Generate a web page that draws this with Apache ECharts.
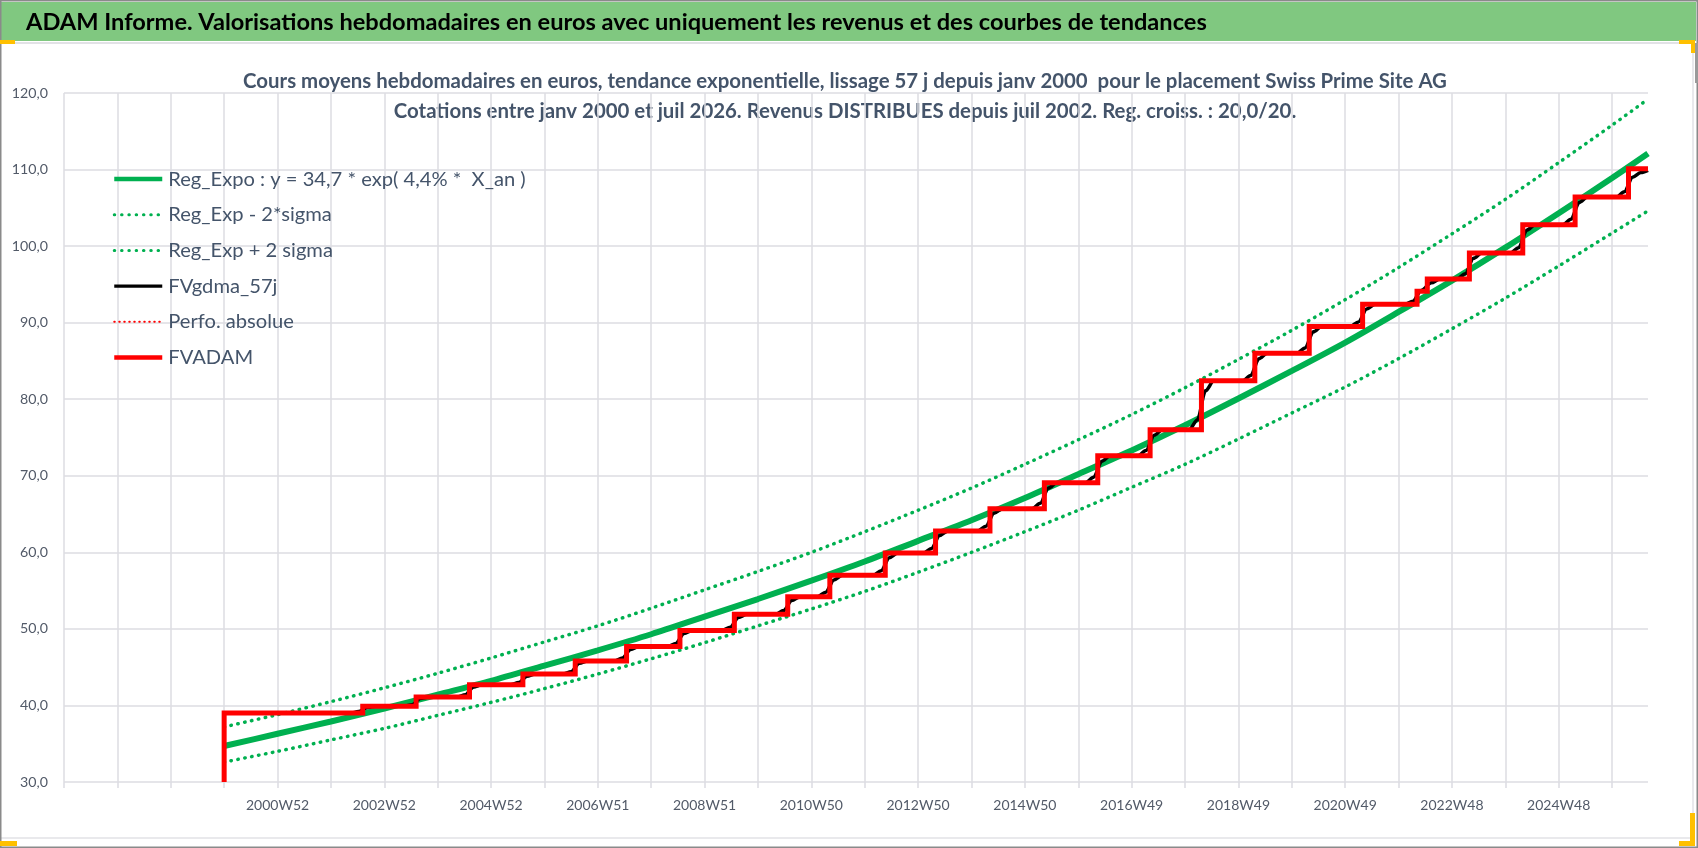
<!DOCTYPE html>
<html>
<head>
<meta charset="utf-8">
<title>ADAM Informe - Swiss Prime Site AG</title>
<script src="https://cdn.jsdelivr.net/npm/echarts@6.0.0/dist/echarts.min.js"></script>
<style>
  html, body { margin: 0; padding: 0; background: #fff; }
  #chart { width: 1698px; height: 848px; }
</style>
</head>
<body>
<div id="chart"></div>
<script>
"use strict";
// axe des semaines : index 0..1543, grille toutes les 52 semaines
var N_WEEKS = 1544;
var GRID_STEP = 52;
var FIRST_LABEL = 208;
var LABEL_STEP = 104;
var tickLabels = ['2000W52', '2002W52', '2004W52', '2006W51', '2008W51', '2010W50', '2012W50',
                  '2014W50', '2016W49', '2018W49', '2020W49', '2022W48', '2024W48'];

// courbes de tendance (une valeur par an)
var trendWeeks = [156, 208, 260, 312, 364, 416, 468, 520, 572, 624, 676, 728, 780, 832, 884, 936,
                  988, 1040, 1092, 1144, 1196, 1248, 1300, 1352, 1404, 1456, 1508, 1543];
var regExpo = [34.7, 36.3, 37.9, 39.6, 41.4, 43.2, 45.2, 47.2, 49.3, 51.6, 53.9, 56.3, 58.8, 61.5, 64.2, 67.1,
               70.2, 73.3, 76.6, 80.1, 83.7, 87.4, 91.4, 95.5, 99.8, 104.3, 108.9, 112.1];
var regMinus = [32.6, 34.0, 35.5, 37.0, 38.7, 40.4, 42.2, 44.1, 46.1, 48.2, 50.4, 52.6, 54.9, 57.4, 60.0, 62.7,
                65.5, 68.5, 71.5, 74.8, 78.2, 81.6, 85.3, 89.2, 93.2, 97.4, 101.7, 104.6];
var regPlus = [37.2, 38.8, 40.5, 42.3, 44.2, 46.2, 48.3, 50.4, 52.7, 55.1, 57.5, 60.0, 62.7, 65.5, 68.4, 71.5,
               74.7, 78.0, 81.5, 85.2, 89.0, 93.0, 97.2, 101.6, 106.1, 110.9, 115.8, 119.2];

// FVADAM : paliers (semaine du saut -> nouveau niveau)
var adamWeeks = [156, 156, 291, 343, 395, 447, 498, 548, 600, 653, 705, 746, 800, 849, 902, 955, 1007,
                 1058, 1108, 1160, 1213, 1265, 1318, 1328, 1369, 1421, 1472, 1524, 1543];
var adamVals = [30.0, 39.0, 39.9, 41.1, 42.7, 44.1, 45.8, 47.7, 49.8, 51.9, 54.2, 57.0, 59.9, 62.8, 65.7, 69.1, 72.6,
                76.0, 82.4, 86.0, 89.5, 92.4, 94.1, 95.7, 99.1, 102.8, 106.4, 110.1, 110.1];

// FVgdma_57j : moyenne lissée autour des sauts
var gdmaWeeks = [156,
  279, 287, 295, 303,  331, 339, 347, 355,  383, 391, 399, 407,  435, 443, 451, 459,
  486, 494, 502, 510,  536, 544, 552, 560,  588, 596, 604, 612,  641, 649, 657, 665,
  693, 701, 709, 717,  734, 742, 750, 758,  788, 796, 804, 812,  837, 845, 853, 861,
  890, 898, 906, 914,  943, 951, 959, 967,  995, 1003, 1011, 1019,  1046, 1054, 1062, 1070,
  1096, 1104, 1112, 1120,  1148, 1156, 1164, 1172,  1201, 1209, 1217, 1225,  1253, 1261, 1269, 1277,
  1306, 1314, 1322, 1332, 1340,  1357, 1365, 1373, 1381,  1409, 1417, 1425, 1433,
  1460, 1468, 1476, 1484,  1512, 1520, 1528, 1536, 1543];
var gdmaVals = [39.0,
  39.0, 39.2, 39.7, 39.9,  39.9, 40.1, 40.9, 41.1,  41.1, 41.4, 42.4, 42.7,  42.7, 43.0, 43.8, 44.1,
  44.1, 44.4, 45.5, 45.8,  45.8, 46.2, 47.3, 47.7,  47.7, 48.1, 49.4, 49.8,  49.8, 50.2, 51.5, 51.9,
  51.9, 52.4, 53.7, 54.2,  54.2, 54.8, 56.4, 57.0,  57.0, 57.6, 59.3, 59.9,  59.9, 60.5, 62.2, 62.8,
  62.8, 63.4, 65.1, 65.7,  65.7, 66.4, 68.4, 69.1,  69.1, 69.8, 71.9, 72.6,  72.6, 73.3, 75.3, 76.0,
  76.0, 77.3, 81.1, 82.4,  82.4, 83.1, 85.3, 86.0,  86.0, 86.7, 88.8, 89.5,  89.5, 90.1, 91.8, 92.4,
  92.4, 92.8, 94.2, 95.2, 95.7,  95.7, 96.4, 98.4, 99.1,  99.1, 99.8, 102.1, 102.8,
  102.8, 103.5, 105.7, 106.4,  106.4, 107.1, 109.0, 109.6, 109.9];

var TITLE = 'ADAM Informe. Valorisations hebdomadaires en euros avec uniquement les revenus et des courbes de tendances';
var SUB1 = 'Cours moyens hebdomadaires en euros, tendance exponentielle, lissage 57 j depuis janv 2000  pour le placement Swiss Prime Site AG';
var SUB2 = 'Cotations entre janv 2000 et juil 2026. Revenus DISTRIBUES depuis juil 2002. Reg. croiss. : 20,0/20.';
var names = ['Reg_Expo : y = 34,7 * exp( 4,4% *  X_an )', 'Reg_Exp - 2*sigma', 'Reg_Exp + 2 sigma',
             'FVgdma_57j', 'Perfo. absolue', 'FVADAM'];

var FONT = 'Lato, "Noto Sans", sans-serif';
var GREEN = '#00B050', RED = '#FF0000', GRIDC = '#DCDCE2', TXT = '#525A68', SLATE = '#44546A';

// taille de police ajustée pour retrouver la largeur des textes d'origine
var measureCtx = document.createElement('canvas').getContext('2d');
function fitSize(text, weight, width) {
  measureCtx.font = weight + ' 100px ' + FONT;
  return Math.round(1000 * width / measureCtx.measureText(text).width) / 10;
}
var titleSize = fitSize(TITLE, 'bold', 1183);
var subSize = fitSize(SUB1, 'bold', 1202);
var legendSize = (fitSize(names[1], 'normal', 163) + fitSize(names[0], 'normal', 359)) / 2;
var yLabSize = fitSize('30,0', 'normal', 28);
var xLabSize = fitSize('2000W52', 'normal', 63);

function zip(xs, ys) {
  return xs.map(function (x, i) { return [x, ys[i]]; });
}

var categories = [];
for (var i = 0; i < N_WEEKS; i++) categories.push(String(i));

var dotted = [0.5, 6.5];

var myChart = echarts.init(document.getElementById('chart'), null, { renderer: 'canvas' });
myChart.setOption({
  animation: false,
  backgroundColor: '#ffffff',
  grid: { left: 64, right: 50, top: 93, bottom: 66, containLabel: false, outerBoundsMode: 'none' },
  legend: {
    orient: 'vertical', left: 112, top: 167, padding: 0,
    itemWidth: 48, itemHeight: 14, itemGap: 11.7,
    selectedMode: false,
    itemStyle: { opacity: 0 },
    textStyle: { fontFamily: FONT, fontSize: legendSize, color: SLATE, lineHeight: 24, padding: [0, 0, 0, 1] },
    data: [
      { name: names[0], lineStyle: { width: 4.5, color: GREEN, type: 'solid' } },
      { name: names[1], lineStyle: { width: 3, color: GREEN, type: [0.5, 6.8], cap: 'round' } },
      { name: names[2], lineStyle: { width: 3, color: GREEN, type: [0.5, 6.8], cap: 'round' } },
      { name: names[3], lineStyle: { width: 3.2, color: '#000', type: 'solid' } },
      { name: names[4], lineStyle: { width: 2, color: RED, type: [0.5, 4.5], cap: 'round' } },
      { name: names[5], lineStyle: { width: 4.5, color: RED, type: 'solid' } }
    ]
  },
  xAxis: {
    type: 'category',
    data: categories,
    boundaryGap: false,
    axisLine: { show: false },
    axisTick: {
      show: true, length: 6,
      interval: function (idx) { return idx % GRID_STEP === 0; },
      lineStyle: { color: GRIDC, width: 1.5 }
    },
    splitLine: {
      show: true,
      interval: function (idx) { return idx % GRID_STEP === 0; },
      lineStyle: { color: GRIDC, width: 1.5 }
    },
    axisLabel: {
      margin: 16,
      interval: function (idx) { return idx >= FIRST_LABEL && (idx - FIRST_LABEL) % LABEL_STEP === 0; },
      formatter: function (val, idx) { return tickLabels[(idx - FIRST_LABEL) / LABEL_STEP] || ''; },
      fontFamily: FONT, fontSize: xLabSize, color: TXT
    }
  },
  yAxis: {
    type: 'value', min: 30, max: 120, interval: 10,
    axisLine: { show: false },
    axisTick: { show: false },
    splitLine: { lineStyle: { color: GRIDC, width: 1.5 } },
    axisLabel: {
      margin: 16,
      formatter: function (v) { return v.toFixed(1).replace('.', ','); },
      fontFamily: FONT, fontSize: yLabSize, color: TXT
    }
  },
  series: [
    { name: names[0], type: 'line', symbol: 'none', data: zip(trendWeeks, regExpo), smooth: 0.3,
      lineStyle: { color: GREEN, width: 6 }, itemStyle: { color: GREEN } },
    { name: names[1], type: 'line', symbol: 'none', data: zip(trendWeeks, regMinus), smooth: 0.3,
      lineStyle: { color: GREEN, width: 3.5, type: dotted, cap: 'round' }, itemStyle: { color: GREEN } },
    { name: names[2], type: 'line', symbol: 'none', data: zip(trendWeeks, regPlus), smooth: 0.3,
      lineStyle: { color: GREEN, width: 3.5, type: dotted, cap: 'round' }, itemStyle: { color: GREEN } },
    { name: names[3], type: 'line', symbol: 'none', data: zip(gdmaWeeks, gdmaVals), smooth: 0.3, smoothMonotone: 'x',
      lineStyle: { color: '#000', width: 3.5 }, itemStyle: { color: '#000' } },
    { name: names[4], type: 'line', symbol: 'none', data: [],
      lineStyle: { color: RED, width: 2, type: [0.5, 4.5], cap: 'round' }, itemStyle: { color: RED } },
    { name: names[5], type: 'line', symbol: 'none', data: zip(adamWeeks, adamVals), step: 'end',
      lineStyle: { color: RED, width: 5, join: 'miter' }, itemStyle: { color: RED } }
  ],
  graphic: [
    // bandeau de titre
    { type: 'rect', shape: { x: 0, y: 2, width: 1696, height: 39 }, style: { fill: '#80C880' } },
    { type: 'text', x: 26, y: 22, style: { text: TITLE, fontFamily: FONT, fontWeight: 'bold', fontSize: titleSize,
      fill: '#000', align: 'left', verticalAlign: 'middle' } },
    { type: 'line', shape: { x1: 0, y1: 43, x2: 1694, y2: 43 }, style: { stroke: '#E2E2E6', lineWidth: 2 } },
    { type: 'line', shape: { x1: 1693, y1: 44, x2: 1693, y2: 839 }, style: { stroke: '#E2E2E6', lineWidth: 1.5 } },
    { type: 'line', shape: { x1: 0, y1: 838, x2: 1694, y2: 838 }, style: { stroke: '#E2E2E6', lineWidth: 1.5 } },
    // cadre extérieur
    { type: 'rect', shape: { x: 0.75, y: 0.75, width: 1696.5, height: 846.5 },
      style: { fill: null, stroke: '#8A8A8A', lineWidth: 1.5 } },
    { type: 'rect', shape: { x: 1695, y: 43, width: 3, height: 40 }, style: { fill: '#9A9A9A' } },
    // poignées jaunes
    { type: 'rect', shape: { x: 0, y: 40, width: 15, height: 4 }, style: { fill: '#FFC000' } },
    { type: 'rect', shape: { x: 1679, y: 40, width: 16, height: 4 }, style: { fill: '#FFC000' } },
    { type: 'rect', shape: { x: 1691, y: 40, width: 4, height: 13 }, style: { fill: '#FFC000' } },
    { type: 'rect', shape: { x: 0, y: 841, width: 17, height: 5 }, style: { fill: '#FFC000' } },
    { type: 'rect', shape: { x: 1690, y: 813, width: 5, height: 33 }, style: { fill: '#FFC000' } },
    { type: 'rect', shape: { x: 1679, y: 841, width: 16, height: 5 }, style: { fill: '#FFC000' } },
    // sous-titre
    { type: 'text', x: 845, y: 81, style: { text: SUB1, fontFamily: FONT, fontWeight: 'bold', fontSize: subSize,
      fill: SLATE, align: 'center', verticalAlign: 'middle' } },
    { type: 'text', x: 845, y: 111, style: { text: SUB2, fontFamily: FONT, fontWeight: 'bold', fontSize: subSize,
      fill: SLATE, align: 'center', verticalAlign: 'middle' } }
  ]
});
</script>
</body>
</html>
